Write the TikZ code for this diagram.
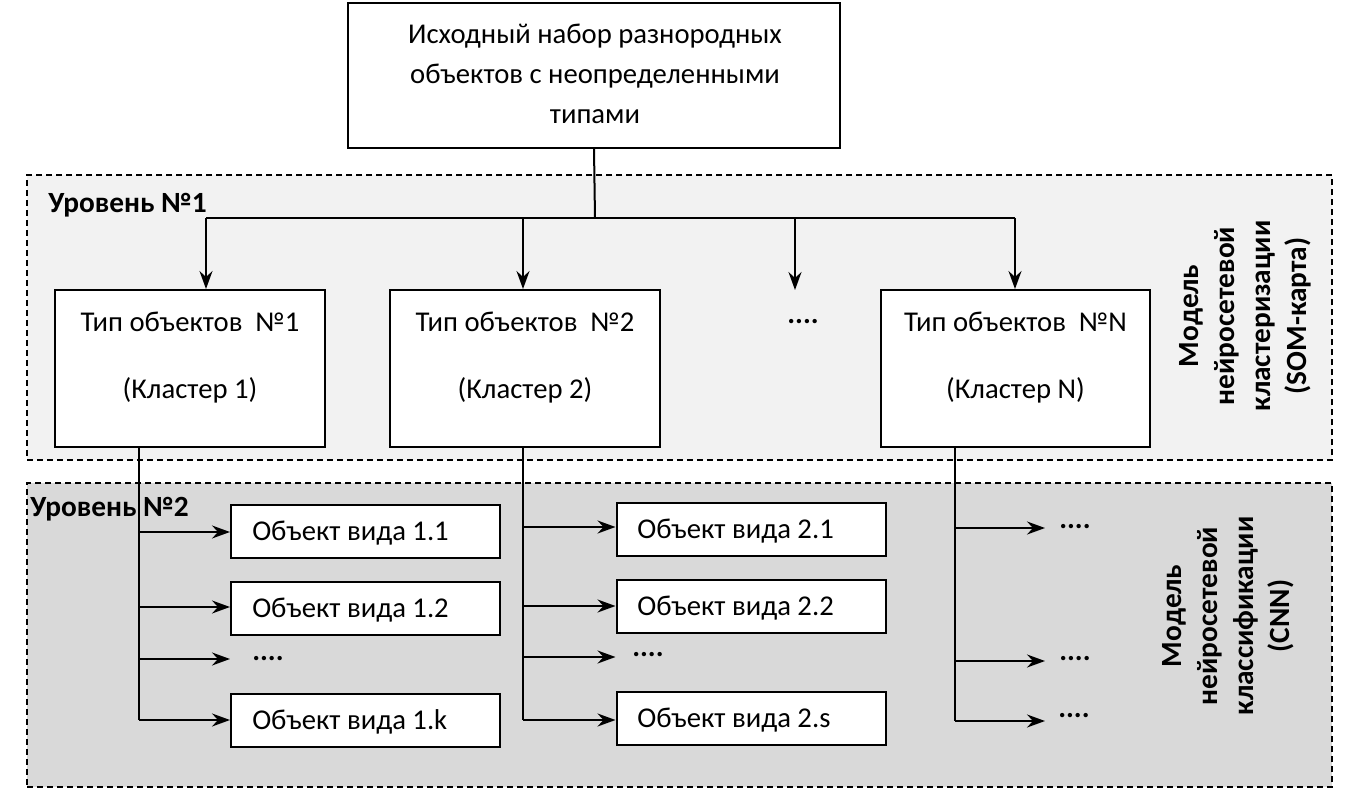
\documentclass[tikz,border=0pt]{standalone}
\usepackage{fontspec}
\setmainfont{Carlito}
\usetikzlibrary{arrows.meta}
\newlength\pxu \setlength\pxu{0.75pt}
\definecolor{lvlone}{HTML}{F2F2F2}
\definecolor{lvltwo}{HTML}{D9D9D9}
\tikzset{
  region/.style={draw, dashed, dash pattern=on 4.5pt off 3pt, line width=1.1pt, inner sep=0},
  box/.style={draw, fill=white, line width=1.5pt, inner sep=0},
  conn/.style={line width=1.5pt},
  arr/.style={line width=1.5pt, -{Stealth[length=13.5pt, width=9.75pt, inset=4.5pt]}},
  txt/.style={font=\fontsize{21.5}{30}\selectfont, inner sep=0, align=center},
  lvl/.style={font=\fontsize{22}{24}\selectfont\bfseries, inner sep=0, anchor=base west},
  dots/.style={font=\fontsize{22}{24}\selectfont\bfseries, inner sep=0},
  rot/.style={font=\bfseries\fontsize{22}{27}\selectfont, rotate=90, align=center, inner sep=0}
}
\begin{document}
\begin{tikzpicture}[x=0.75pt,y=-0.75pt]
\useasboundingbox[fill=white] (0,0) rectangle (1353,795);
% regions
\node[region, fill=lvlone, minimum width=1305\pxu, minimum height=285\pxu] (L1) at (679.5,317.5) {};
\node[region, fill=lvltwo, minimum width=1305\pxu, minimum height=304\pxu] (L2) at (679.5,635) {};
\node[lvl] (l1t) at (48,213) {Уровень №1};
\node[lvl] (l2t) at (30,516) {Уровень №2};
\node[rot] (r1) at (1245,316) {Модель\\нейросетевой\\кластеризации\\(SOM-карта)};
\node[rot] (r2) at (1228,616) {Модель\\нейросетевой\\классификации\\(CNN)};
% top box
\node[box, minimum width=492\pxu, minimum height=145\pxu] (top) at (594,75.5) {};
\node[txt] (topt) at (595,74) {Исходный набор разнородных\\объектов с неопределенными\\типами};
% type boxes
\node[box, minimum width=270\pxu, minimum height=157\pxu] (b1) at (190,368.5) {};
\node[box, minimum width=270\pxu, minimum height=157\pxu] (b2) at (525,368.5) {};
\node[box, minimum width=269\pxu, minimum height=157\pxu] (bN) at (1015.5,368.5) {};
\node[txt] (b1a) at (190,322) {Тип объектов ~№1};
\node[txt] (b1b) at (190,390) {(Кластер 1)};
\node[txt] (b2a) at (525,322) {Тип объектов ~№2};
\node[txt] (b2b) at (525,390) {(Кластер 2)};
\node[txt] (bNa) at (1015.5,322) {Тип объектов ~№N};
\node[txt] (bNb) at (1015.5,390) {(Кластер N)};
\node[dots] (bdots) at (803,322) {....};
\coordinate (bd) at (795,290);
% bus
\coordinate (bus) at (595,218);
\coordinate (j1) at (206,218);
\coordinate (j2) at (523,218);
\coordinate (j3) at (795,218);
\coordinate (j4) at (1015,218);
\draw[conn] (top.south) -- (bus);
\draw[conn] (j1) -- (j4);
\draw[arr] (j1) -- (j1 |- b1.north);
\draw[arr] (j2) -- (j2 |- b2.north);
\draw[arr] (j3) -- (bd);
\draw[arr] (j4) -- (j4 |- bN.north);
% level 2 boxes col 1
\tikzset{obj/.style={box, minimum width=269\pxu, minimum height=53\pxu}}
\node[obj] (o11) at (365.5,531) {};
\node[obj] (o12) at (365.5,608) {};
\node[obj] (o1k) at (365.5,720) {};
\node[txt, anchor=west] at (252,533) (o11t) {Объект вида 1.1};
\node[txt, anchor=west] at (252,610) (o12t) {Объект вида 1.2};
\node[txt, anchor=west] at (252,722) (o1kt) {Объект вида 1.k};
\node[dots, anchor=west] (o1d) at (252,659) {....};
\coordinate (c1a) at (139,532);
\coordinate (c1b) at (139,607);
\coordinate (c1c) at (139,659);
\coordinate (c1d) at (139,720);
\draw[conn] (b1.south -| c1a) -- (c1d);
\draw[arr] (c1a) -- (c1a -| o11.west);
\draw[arr] (c1b) -- (c1b -| o12.west);
\draw[arr] (c1c) -- (c1c -| o11.west);
\draw[arr] (c1d) -- (c1d -| o1k.west);
% col 2
\node[obj] (o21) at (751,529) {};
\node[obj] (o22) at (751,606) {};
\node[obj] (o2s) at (751,718) {};
\node[txt, anchor=west] at (637,531) (o21t) {Объект вида 2.1};
\node[txt, anchor=west] at (637,608) (o22t) {Объект вида 2.2};
\node[txt, anchor=west] at (637,720) (o2st) {Объект вида 2.s};
\node[dots, anchor=west] (o2d) at (632,655) {....};
\coordinate (c2a) at (523,527);
\coordinate (c2b) at (523,606);
\coordinate (c2c) at (523,657);
\coordinate (c2d) at (523,720);
\draw[conn] (b2.south -| c2a) -- (c2d);
\draw[arr] (c2a) -- (c2a -| o21.west);
\draw[arr] (c2b) -- (c2b -| o22.west);
\draw[arr] (c2c) -- (c2c -| o21.west);
\draw[arr] (c2d) -- (c2d -| o2s.west);
% col 3
\coordinate (c3a) at (955,528);
\coordinate (c3b) at (955,661);
\coordinate (c3c) at (955,721);
\node[dots, anchor=west] (o3a) at (1059,527) {....};
\node[dots, anchor=west] (o3b) at (1059,659) {....};
\node[dots, anchor=west] (o3c) at (1058,716) {....};
\draw[conn] (bN.south -| c3a) -- (c3c);
\draw[arr] (c3a) -- ++(90,0);
\draw[arr] (c3b) -- ++(90,0);
\draw[arr] (c3c) -- ++(90,0);
\end{tikzpicture}
\end{document}
